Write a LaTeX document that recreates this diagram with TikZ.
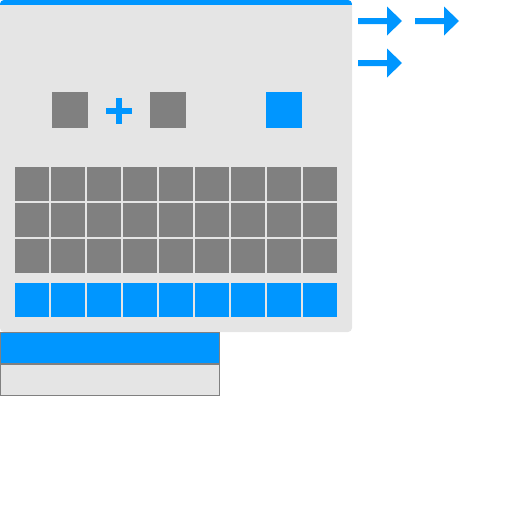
\documentclass[tikz,border=0pt]{standalone}
\definecolor{blu}{RGB}{0,150,255}
\definecolor{dgray}{RGB}{128,128,128}
\definecolor{lgray}{RGB}{229,229,229}
\begin{document}
\begin{tikzpicture}[x=1pt,y=-1pt,
  cell/.style={fill=dgray},
  bcell/.style={fill=blu},
  arrowshape/.style={fill=blu}]
\useasboundingbox (0,0) rectangle (512,512);
% main panel
\fill[lgray,rounded corners=4pt] (0,0) rectangle (352,332);
\begin{scope}
\clip[rounded corners=4pt] (0,0) rectangle (352,332);
\fill[blu] (0,0) rectangle (352,5);
\end{scope}
% top squares
\fill[cell] (52,92) rectangle (88,128);
\fill[blu] (106,108) rectangle (132,114);
\fill[blu] (116,98) rectangle (122,124);
\fill[cell] (150,92) rectangle (186,128);
\fill[bcell] (266,92) rectangle (302,128);
% grid
\foreach \i in {0,...,8} {
  \foreach \j in {0,1,2} {
    \fill[cell] (15+36*\i,167+36*\j) rectangle ++(34,34);
  }
  \fill[bcell] (15+36*\i,283) rectangle ++(34,34);
}
% bottom boxes
\filldraw[fill=blu,draw=dgray,line width=1pt] (0.5,332.5) rectangle (219.5,363.5);
\filldraw[fill=lgray,draw=dgray,line width=1pt] (0.5,364.5) rectangle (219.5,395.5);
% arrows
\foreach \x/\y in {358/21,415/21,358/63} {
  \fill[arrowshape] (\x,\y-3) -- ++(29,0) -- ++(0,-11.5) -- ++(15,14.5) -- ++(-15,14.5) -- ++(0,-11.5) -- ++(-29,0) -- cycle;
}
\end{tikzpicture}
\end{document}
